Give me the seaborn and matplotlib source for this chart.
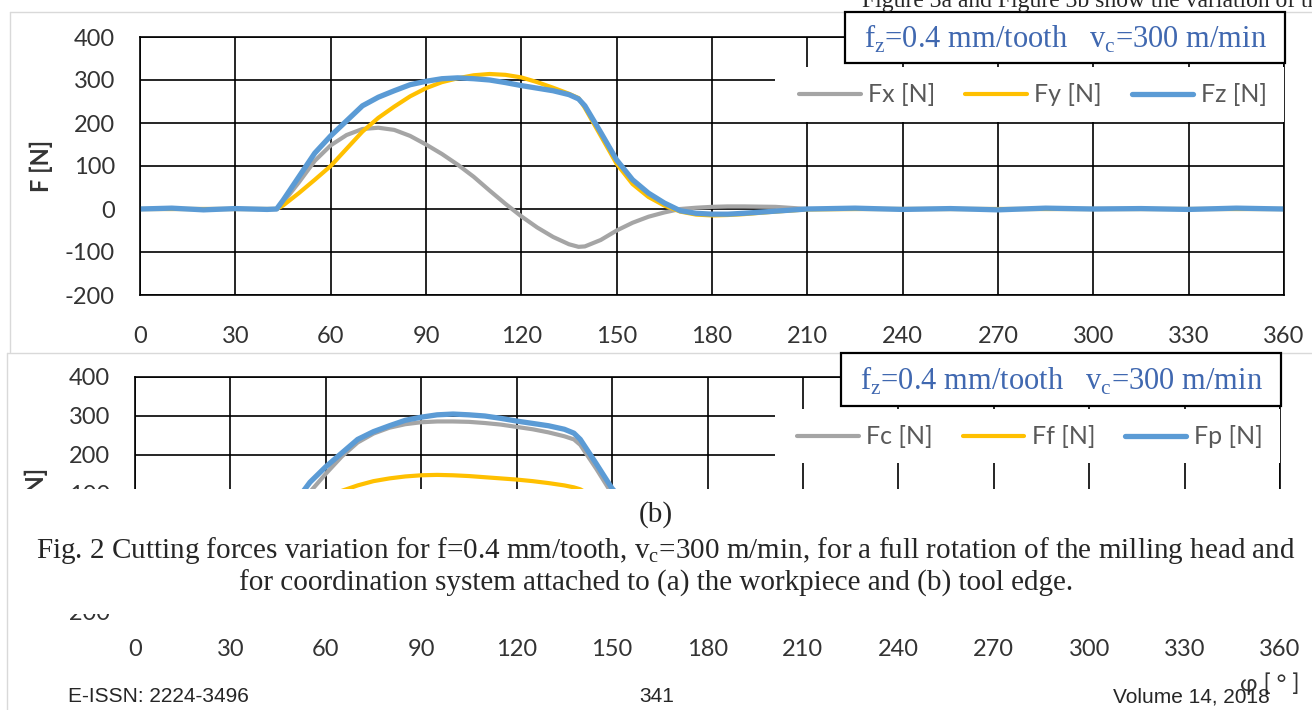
import matplotlib
matplotlib.use("Agg")
import matplotlib.pyplot as plt
from matplotlib.patches import Rectangle
from matplotlib.lines import Line2D
import pandas as pd
import seaborn as sns

# angle of rotation [deg], shared by all series
angle = [0, 10, 20, 30, 40, 43, 45, 50, 55, 60, 65, 70, 75, 80, 85, 90, 95, 100,
         105, 110, 115, 120, 125, 130, 135, 138, 140, 145, 150, 155, 160, 165, 170,
         175, 180, 185, 190, 200, 210, 225, 240, 255, 270, 285, 300, 315, 330, 345, 360]

# (a) workpiece coordinate system
fx_a = [0, 0, 0, 0, 0, 0, 15, 62, 112, 148, 172, 186, 189, 184, 170, 150, 128, 103,
        75, 43, 12, -17, -43, -65, -82, -88, -87, -72, -50, -32, -18, -8, 0,
        3, 5, 6, 6, 5, 0, 0, 0, 0, 0, 0, 0, 0, 0, 0, 0]
fy_a = [0, 0, 0, 0, 0, 0, 8, 37, 68, 100, 140, 180, 212, 238, 262, 281, 295, 304,
        311, 314, 312, 306, 295, 282, 268, 258, 235, 170, 105, 58, 28, 8, -6,
        -13, -15, -14, -12, -6, -1, 0, 0, 0, 0, 0, 0, 0, 0, 0, 0]
fz_a = [0, 2, -2, 1, -1, 0, 20, 75, 130, 170, 205, 240, 260, 275, 289, 297, 303, 305,
        303, 300, 294, 287, 281, 275, 266, 256, 240, 178, 114, 68, 37, 14, -4,
        -10, -12, -12, -10, -5, 0, 2, -1, 1, -2, 2, 0, 1, -1, 2, 0]

# (b) tool edge coordinate system
fc_b = [0, 0, 0, 0, 0, 0, 12, 55, 105, 152, 196, 232, 255, 270, 279, 284, 286, 286,
        285, 282, 278, 272, 266, 258, 248, 240, 226, 165, 100, 55, 25, 8, 0,
        -4, -5, -5, -4, -2, 0, 0, 0, 0, 0, 0, 0, 0, 0, 0, 0]
ff_b = [0, 0, 0, 0, 0, 0, 6, 35, 65, 90, 108, 122, 133, 140, 145, 148, 149, 148,
        146, 143, 140, 137, 133, 128, 122, 117, 112, 88, 55, 30, 12, 3, -2,
        -4, -5, -4, -3, -1, 0, 0, 0, 0, 0, 0, 0, 0, 0, 0, 0]
fp_b = [0, 2, -2, 1, -1, 0, 20, 75, 130, 170, 205, 240, 260, 275, 289, 297, 303, 305,
        303, 300, 294, 287, 281, 275, 266, 256, 240, 178, 114, 68, 37, 14, -4,
        -10, -12, -12, -10, -5, 0, 2, -1, 1, -2, 2, 0, 1, -1, 2, 0]

labels_a = ["Fx [N]", "Fy [N]", "Fz [N]"]
labels_b = ["Fc [N]", "Ff [N]", "Fp [N]"]
colors = ["#A5A5A5", "#FFC000", "#5B9BD5"]
xticks = list(range(0, 361, 30))
yticks = list(range(-200, 401, 100))

W, H = 1312, 710


def fxp(x):
    return x / W


def fyp(y):
    return 1 - y / H


def long_table(series, names):
    rows = []
    for vals, name in zip(series, names):
        for a, v in zip(angle, vals):
            rows.append({"angle": a, "force": v, "series": name})
    return pd.DataFrame(rows)


sns.set_style("white")
plt.rcParams["font.family"] = ["Lato", "DejaVu Sans"]
plt.rcParams["axes.unicode_minus"] = False

fig = plt.figure(figsize=(W / 100, H / 100), dpi=100)

ax_a = fig.add_axes([fxp(140), fyp(295), (1284 - 140) / W, (295 - 37) / H])
ax_b = fig.add_axes([fxp(135), fyp(611), (1280 - 135) / W, (611 - 377) / H])

setups = [
    (ax_a, long_table([fx_a, fy_a, fz_a], labels_a), labels_a, 22, (1033, 95), (775, 67, 1287, 122), (845, 12, 1285, 63)),
    (ax_b, long_table([fc_b, ff_b, fp_b], labels_b), labels_b, 20, (1030, 437), (775, 409, 1283, 463), (841, 353, 1281, 406)),
]

for ax, df, names, xpad, leg_xy, patch, box in setups:
    sns.lineplot(data=df, x="angle", y="force", hue="series", hue_order=names,
                 palette=dict(zip(names, colors)), linewidth=3, ax=ax)
    for ln in ax.lines:
        if ln.get_color() == colors[2]:
            ln.set_linewidth(3.8)
    ax.set_xlim(0, 360)
    ax.set_ylim(-200, 400)
    ax.set_xticks(xticks)
    ax.set_yticks(yticks)
    ax.grid(True, color="black", linewidth=1.2)
    ax.set_axisbelow(True)
    for sp in ax.spines.values():
        sp.set_color("black")
        sp.set_linewidth(1.2)
    ax.tick_params(length=0, labelsize=17, labelcolor="#333333")
    ax.tick_params(axis="x", pad=xpad)
    ax.tick_params(axis="y", pad=18)
    ax.set_xlabel("")
    ax.set_ylabel("F [N]", fontsize=17, fontweight="bold", color="#333333")
    ax.yaxis.set_label_coords(-0.076, 0.5)

    # white legend area over the grid
    x0, y0, x1, y1 = patch
    ax.add_patch(Rectangle((fxp(x0), fyp(y1)), (x1 - x0) / W, (y1 - y0) / H,
                           transform=fig.transFigure, facecolor="white",
                           edgecolor="none", zorder=4))
    handles, lbls = ax.get_legend_handles_labels()
    leg = ax.legend(handles, lbls, loc="center", bbox_to_anchor=(fxp(leg_xy[0]), fyp(leg_xy[1])),
                    bbox_transform=fig.transFigure, ncol=3, frameon=False, fontsize=18,
                    handlelength=2.45, handletextpad=0.3, columnspacing=1.2,
                    labelcolor="#595959")
    leg.set_zorder(6)

    # parameter box
    bx0, by0, bx1, by1 = box
    fig.add_artist(Rectangle((fxp(bx0), fyp(by1)), (bx1 - bx0) / W, (by1 - by0) / H,
                             transform=fig.transFigure, facecolor="white",
                             edgecolor="black", linewidth=1.6, zorder=5))
    fig.text(fxp((bx0 + bx1) / 2), fyp((by0 + by1) / 2 + 1),
             r"f$_\mathregular{z}$=0.4 mm/tooth   v$_\mathregular{c}$=300 m/min",
             ha="center", va="center", fontsize=22, color="#4068B0",
             family="Liberation Serif", zorder=7)

# chart area frames
frame = "#D9D9D9"
for xs, ys in [([10, 10], [12, 352]), ([10, W], [12, 12]), ([7, W], [353, 353]), ([7, 7], [353, H])]:
    fig.add_artist(Line2D([fxp(v) for v in xs], [fyp(v) for v in ys], color=frame,
                          linewidth=1, zorder=3))

# caption covering the lower part of chart (b)
fig.add_artist(Rectangle((fxp(9), fyp(614)), (W - 9) / W, (614 - 489) / H,
                         transform=fig.transFigure, facecolor="white",
                         edgecolor="none", zorder=8))
serif = "Liberation Serif"
fig.text(fxp(656), fyp(515), "(b)", ha="center", va="center", fontsize=21,
         family=serif, zorder=9)
fig.text(fxp(666), fyp(550),
         r"Fig. 2 Cutting forces variation for f=0.4 mm/tooth, v$_\mathregular{c}$=300 m/min, "
         "for a full rotation of the milling head and",
         ha="center", va="center", fontsize=21, family=serif, zorder=9)
fig.text(fxp(656), fyp(583),
         "for coordination system attached to (a) the workpiece and (b) tool edge.",
         ha="center", va="center", fontsize=21, family=serif, zorder=9)

# page text
fig.text(fxp(862), fyp(7), "Figure 3a and Figure 3b show the variation of th",
         ha="left", va="baseline", fontsize=17, family=serif, zorder=9)
fig.text(fxp(1270), fyp(684), "φ [ ° ]", ha="center", va="center", fontsize=17,
         color="#333333", zorder=9)
sans = "Liberation Sans"
fig.text(fxp(68), fyp(697), "E-ISSN: 2224-3496", ha="left", va="center", fontsize=15,
         family=sans, zorder=9)
fig.text(fxp(657), fyp(697), "341", ha="center", va="center", fontsize=15,
         family=sans, zorder=9)
fig.text(fxp(1270), fyp(697), "Volume 14, 2018", ha="right", va="center", fontsize=15,
         family=sans, zorder=9)

fig.savefig("out.png", dpi=100)
